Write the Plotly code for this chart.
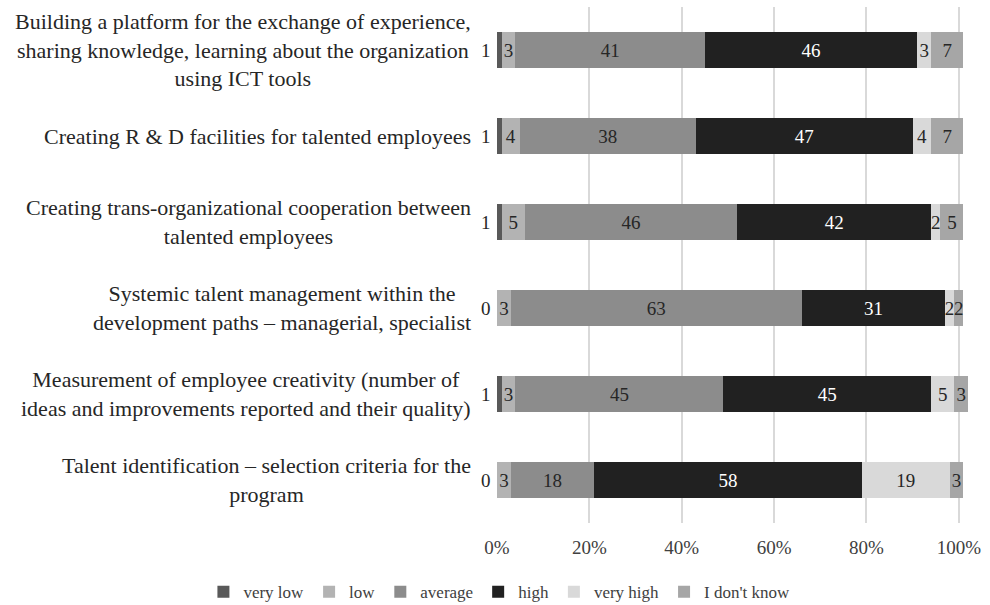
import plotly.graph_objects as go

categories = [
    "Building a platform for the exchange of experience,<br>sharing knowledge, learning about the organization<br>using ICT tools",
    "Creating R &amp; D facilities for talented employees",
    "Creating trans-organizational cooperation between<br>talented employees",
    "Systemic talent management within the<br>development paths – managerial, specialist",
    "Measurement of employee creativity (number of<br>ideas and improvements reported and their quality)",
    "Talent identification – selection criteria for the<br>program",
]

series_names = ["very low", "low", "average", "high", "very high", "I don't know"]
very_low = [1, 1, 1, 0, 1, 0]
low = [3, 4, 5, 3, 3, 3]
average = [41, 38, 46, 63, 45, 18]
high = [46, 47, 42, 31, 45, 58]
very_high = [3, 4, 2, 2, 5, 19]
dont_know = [7, 7, 5, 2, 3, 3]

tick_vals = [0, 20, 40, 60, 80, 100]
tick_text = ["0%", "20%", "40%", "60%", "80%", "100%"]

series_values = [very_low, low, average, high, very_high, dont_know]
colors = ["#595959", "#b3b3b3", "#8c8c8c", "#212121", "#d9d9d9", "#a6a6a6"]
text_colors = ["#262626", "#262626", "#262626", "#ffffff", "#262626", "#262626"]

FONT = "Liberation Serif"

fig = go.Figure()
for i, (name, vals) in enumerate(zip(series_names, series_values)):
    show_text = i != 0  # the thin "very low" segment is labelled outside the bar
    fig.add_trace(go.Bar(
        name=name,
        y=categories,
        x=vals,
        orientation="h",
        marker=dict(color=colors[i], line=dict(width=0)),
        text=[str(v) for v in vals] if show_text else None,
        textposition="inside" if show_text else "none",
        insidetextanchor="middle",
        textfont=dict(family=FONT, size=19, color=text_colors[i]),
        cliponaxis=False,
        hoverinfo="x+y+name",
    ))

annotations = []
# category labels: right-aligned block with centred lines
for cat in categories:
    annotations.append(dict(
        x=0, y=cat, xref="x", yref="y", text=cat, showarrow=False,
        xanchor="right", yanchor="middle", align="center", xshift=-24,
        font=dict(family=FONT, size=22, color="#262626"),
    ))
# "very low" values next to the bar start
for cat, v in zip(categories, very_low):
    annotations.append(dict(
        x=0, y=cat, xref="x", yref="y", text=str(v), showarrow=False,
        xanchor="right", yanchor="middle", xshift=-4,
        font=dict(family=FONT, size=19, color="#262626"),
    ))

fig.update_layout(
    barmode="stack",
    bargap=0.59,
    width=990,
    height=605,
    margin=dict(l=497, r=21, t=7, b=82, autoexpand=False),
    paper_bgcolor="white",
    plot_bgcolor="white",
    font=dict(family=FONT, size=19, color="#404040"),
    uniformtext=dict(minsize=19, mode="show"),
    xaxis=dict(
        range=[0, 102.2],
        tickvals=tick_vals,
        ticktext=tick_text,
        showgrid=True,
        gridcolor="#d9d9d9",
        gridwidth=1.5,
        zeroline=False,
        showline=False,
        ticks="",
        tickfont=dict(family=FONT, size=19, color="#404040"),
        ticklabelstandoff=11,
    ),
    yaxis=dict(
        categoryorder="array",
        categoryarray=categories,
        autorange="reversed",
        showticklabels=False,
        showgrid=False,
        zeroline=False,
        ticks="",
    ),
    legend=dict(
        orientation="h",
        x=-0.622, xanchor="left",
        y=-0.099, yanchor="top",
        font=dict(family=FONT, size=17, color="#404040"),
        itemwidth=30,
        traceorder="normal",
    ),
    annotations=annotations,
)

fig.write_html("out.html")
